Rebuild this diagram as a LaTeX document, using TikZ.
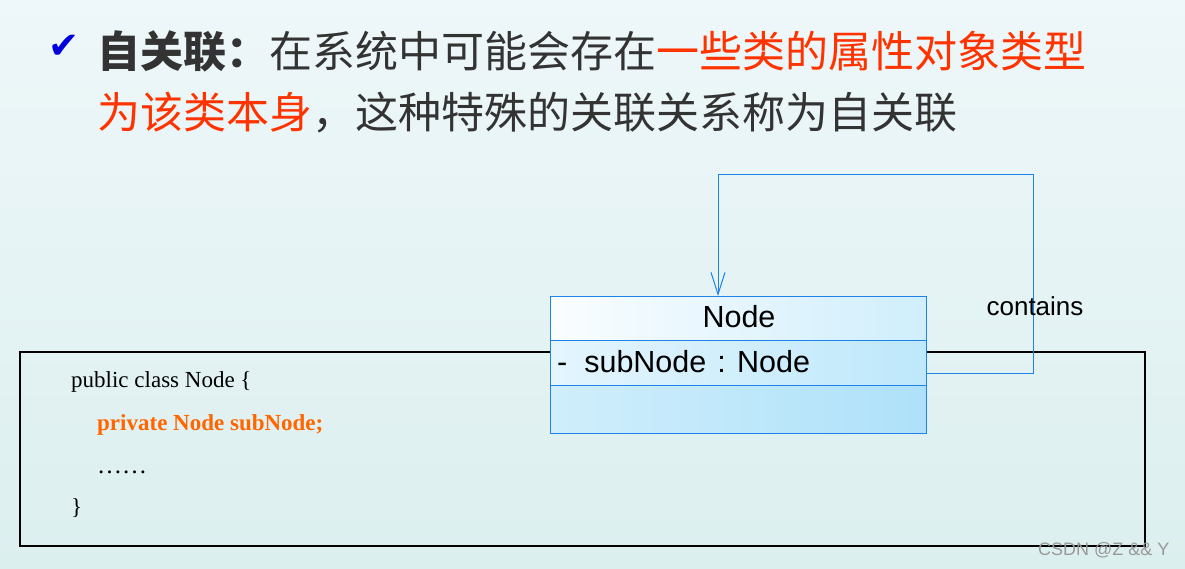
\documentclass[tikz,border=0pt]{standalone}
\usepackage{fontspec}
\setmainfont{Liberation Serif}
\newfontfamily\cjk{Noto Sans CJK SC}
\newfontfamily\umlfont{Liberation Sans}
\newfontfamily\symfont{DejaVu Sans}
\usetikzlibrary{arrows.meta,positioning}
\definecolor{bgtop}{RGB}{238,247,249}
\definecolor{bgbot}{RGB}{220,239,239}
\definecolor{ink}{RGB}{51,51,51}
\definecolor{hot}{RGB}{255,51,0}
\definecolor{codeorange}{RGB}{255,102,0}
\definecolor{umlblue}{RGB}{30,130,235}
\definecolor{tick}{RGB}{0,0,220}
\definecolor{headL}{RGB}{250,253,255}
\definecolor{headR}{RGB}{208,238,252}
\definecolor{attrL}{RGB}{228,245,253}
\definecolor{attrR}{RGB}{190,232,251}
\definecolor{opsL}{RGB}{208,238,251}
\definecolor{opsR}{RGB}{174,225,250}
\tikzset{
  titletext/.style={inner sep=0pt, anchor=base west, text=ink, font=\cjk\fontsize{43pt}{50pt}\selectfont},
  codetext/.style={inner sep=0pt, anchor=base west, font=\fontsize{23pt}{28pt}\selectfont},
  umltext/.style={inner sep=0pt, font=\umlfont\fontsize{30.5pt}{34pt}\selectfont},
  umlpart/.style={draw=umlblue, line width=1pt, minimum width=376pt, inner sep=0pt, outer sep=0pt},
  assoc/.style={umlblue, line width=1pt, -{Straight Barb[length=22pt,width=14pt]}}
}

\begin{document}
\begin{tikzpicture}[x=1pt, y=-1pt]
			%%%%% START %%%%%
			\useasboundingbox (0,0) rectangle (1185,568);
			\fill[top color=bgtop, bottom color=bgbot] (0,0) rectangle (1185,568);
			
			% heading
			\node[inner sep=0pt, text=tick, font=\symfont\fontsize{37pt}{37pt}\selectfont] (check) at (64,47) {✔};
			\node[titletext] (title1) at (97,67) {{\bfseries 自关联：}在系统中可能会存在\textcolor{hot}{一些类的属性对象类型}};
			\node[titletext] (title2) at (97,128) {\textcolor{hot}{为该类本身}，这种特殊的关联关系称为自关联};
			
			% java code
			\node[draw=black, line width=2pt, minimum width=1125pt, minimum height=194pt, inner sep=0pt] (code) at (582.5,449) {};
			\node[codetext] (line1) at (71,387) {public class Node \{};
			\node[codetext, text=codeorange, font=\bfseries\fontsize{23pt}{28pt}\selectfont] (line2) at (97,430) {private Node subNode;};
			\node[codetext] (line3) at (97,473) {\fontsize{25pt}{28pt}\selectfont ……};
			\node[codetext] (line4) at (71,514) {\}};
			
			% class Node
			\node[umlpart, minimum height=44pt, left color=headL, right color=headR] (clshead) at (738,318) {};
			\node[umlpart, minimum height=45pt, left color=attrL, right color=attrR, below=0pt of clshead] (clsattr) {};
			\node[umlpart, minimum height=48pt, left color=opsL, right color=opsR, below=0pt of clsattr] (clsops) {};
			\node[umltext] (clsname) at (739,317) {Node};
			\node[umltext, anchor=west] (attr) at (557,362) {-\ \ subNode\hspace{11pt}: Node};
			
			% self association
			\coordinate (loop) at (1033,174);
			\draw[assoc] ([yshift=-10.5pt]clsattr.east) -| (loop) -| ([xshift=-20pt]clshead.north);
			\node[umltext, font=\umlfont\fontsize{26pt}{30pt}\selectfont] (contains) at (1035,306) {contains};
			
			\node[inner sep=0pt, anchor=west, text=black!40, font=\umlfont\fontsize{18pt}{20pt}\selectfont] (mark) at (1038,550) {CSDN @Z \&\& Y};
			%%%%% END %%%%%
\end{tikzpicture}
\end{document}
